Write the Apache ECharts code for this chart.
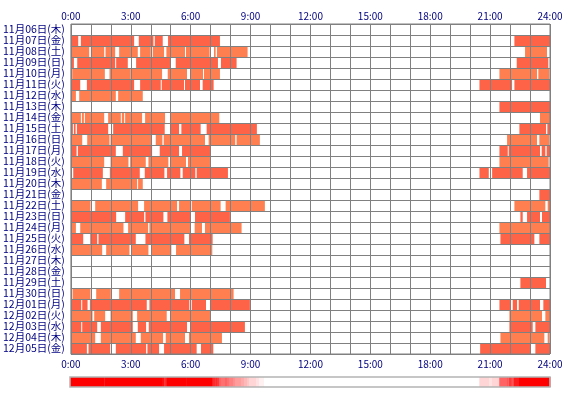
<!DOCTYPE html>
<html><head><meta charset="utf-8">
<script src="https://cdn.jsdelivr.net/npm/echarts@6/dist/echarts.min.js"></script>
<style>html,body{margin:0;padding:0;background:#fff}#c{width:570px;height:400px}</style>
</head><body><div id="c"></div>
<script>
// Row labels (top to bottom)
const dates = [
  '11月06日(木)','11月07日(金)','11月08日(土)','11月09日(日)','11月10日(月)',
  '11月11日(火)','11月12日(水)','11月13日(木)','11月14日(金)','11月15日(土)',
  '11月16日(日)','11月17日(月)','11月18日(火)','11月19日(水)','11月20日(木)',
  '11月21日(金)','11月22日(土)','11月23日(日)','11月24日(月)','11月25日(火)',
  '11月26日(水)','11月27日(木)','11月28日(金)','11月29日(土)','11月30日(日)',
  '12月01日(月)','12月02日(火)','12月03日(水)','12月04日(木)','12月05日(金)'
];
// Segments per day: [start minute, end minute] from 0:00
const segments = [
  [],
  [[0,22],[30,190],[204,248],[252,276],[292,448],[1333,1440]],
  [[0,55],[60,100],[104,133],[145,201],[208,240],[246,280],[287,343],[346,417],[430,435],[439,531],[1365,1431]],
  [[1,9],[19,133],[136,171],[196,298],[315,442],[451,498],[1340,1435]],
  [[0,2],[4,102],[116,180],[183,274],[291,349],[360,397],[400,448],[1288,1401],[1405,1438]],
  [[0,28],[48,190],[208,270],[273,340],[343,388],[396,429],[1228,1326],[1333,1440]],
  [[0,15],[25,135],[142,216]],
  [[1288,1440]],
  [[0,30],[33,39],[42,100],[112,150],[153,160],[163,214],[223,283],[300,446],[1410,1440]],
  [[0,6],[9,14],[18,112],[127,282],[300,325],[332,390],[408,559],[1348,1428],[1432,1440]],
  [[0,34],[49,116],[119,241],[255,275],[279,403],[414,494],[498,568],[1311,1401],[1408,1438]],
  [[1,17],[21,135],[156,244],[267,325],[334,420],[1288,1313],[1316,1410],[1415,1426],[1430,1440]],
  [[0,100],[119,173],[178,225],[233,293],[298,346],[352,420],[1288,1436]],
  [[0,2],[7,96],[117,207],[222,281],[289,329],[336,374],[378,472],[1228,1256],[1266,1358],[1371,1440]],
  [[0,93],[106,199],[202,216]],
  [[1408,1440]],
  [[0,59],[73,202],[220,319],[325,359],[363,450],[465,583],[1333,1426],[1433,1440]],
  [[0,136],[163,220],[224,278],[290,360],[373,478],[1351,1358],[1371,1410],[1416,1440]],
  [[0,15],[28,158],[172,232],[236,358],[372,394],[403,513],[1288,1440]],
  [[0,37],[58,79],[83,195],[224,341],[355,426],[1291,1393],[1408,1440]],
  [[0,94],[106,176],[181,233],[242,302],[316,425]],
  [],
  [],
  [[1351,1428]],
  [[0,3],[5,59],[76,120],[145,313],[328,489]],
  [[0,31],[34,50],[57,228],[236,356],[363,406],[418,538],[1288,1323],[1328,1341],[1346,1410],[1420,1440]],
  [[0,65],[70,103],[119,186],[199,288],[300,420],[1318,1416],[1426,1440]],
  [[0,31],[34,79],[90,186],[201,226],[234,349],[358,523],[1318,1388],[1396,1440]],
  [[0,73],[90,195],[210,277],[285,343],[355,454],[1291,1423],[1433,1438]],
  [[0,48],[53,118],[135,226],[230,265],[280,378],[391,428],[1230,1383],[1396,1440]]
];

const FONT = '"Noto Sans CJK JP", "Noto Sans", sans-serif';
const TEXT = '#000080';
const GRIDC = '#808080';

const barData = [];
segments.forEach((row, i) => row.forEach(s => barData.push([i, s[0], s[1]])));

// Density strip: number of days active in each 3-minute bin
const BIN = 3;
const density = [];
for (let t = 0; t < 1440; t += BIN) {
  const mid = t + BIN / 2;
  let c = 0;
  segments.forEach(row => { if (row.some(s => mid >= s[0] && mid < s[1])) c++; });
  density.push([t, t + BIN, c]);
}
const maxCount = Math.max.apply(null, density.map(d => d[2]));

const fmt = v => (v / 60) + ':00';
const chart = echarts.init(document.getElementById('c'), null, {renderer: 'canvas'});
chart.setOption({
  animation: false,
  backgroundColor: '#fff',
  grid: [
    {left: 70, top: 24, width: 480, height: 330, show: true, borderColor: GRIDC, borderWidth: 1, backgroundColor: 'transparent', z: 5},
    {left: 70, top: 377, width: 480, height: 10, show: true, borderColor: '#b4b4b4', borderWidth: 1.5, backgroundColor: 'transparent', z: 5}
  ],
  xAxis: [
    {gridIndex: 0, type: 'value', min: 0, max: 1440, interval: 180, position: 'bottom', z: 4,
     axisLine: {show: false}, axisTick: {show: false},
     splitLine: {show: true, lineStyle: {color: GRIDC, width: 1}},
     minorTick: {show: false, splitNumber: 3},
     minorSplitLine: {show: true, lineStyle: {color: GRIDC, width: 1}},
     axisLabel: {formatter: fmt, color: TEXT, fontFamily: FONT, fontSize: 10, margin: 5}},
    {gridIndex: 0, type: 'value', min: 0, max: 1440, interval: 180, position: 'top', z: 4,
     axisLine: {show: false}, axisTick: {show: false}, splitLine: {show: false},
     axisLabel: {formatter: fmt, color: TEXT, fontFamily: FONT, fontSize: 10, margin: 3}},
    {gridIndex: 1, type: 'value', min: 0, max: 1440, show: false}
  ],
  yAxis: [
    {gridIndex: 0, type: 'category', data: dates, inverse: true, z: 4,
     axisLine: {show: false}, axisTick: {show: false},
     splitLine: {show: true, interval: 0, lineStyle: {color: GRIDC, width: 1}},
     axisLabel: {interval: 0, color: TEXT, fontFamily: FONT, fontSize: 10.5, margin: 6}},
    {gridIndex: 1, type: 'value', min: 0, max: 1, show: false}
  ],
  visualMap: {type: 'continuous', show: false, seriesIndex: 1, dimension: 2, min: 0, max: Math.round(maxCount * 0.75),
    inRange: {color: ['#ffffff', '#ff0000']}},
  series: [
    {type: 'custom', xAxisIndex: 0, yAxisIndex: 0, data: barData, encode: {x: [1, 2], y: 0},
     renderItem: function (params, api) {
       const row = api.value(0);
       const a = api.coord([api.value(1), row]);
       const b = api.coord([api.value(2), row]);
       const h = api.size([0, 1])[1];
       return {type: 'rect', shape: {x: a[0], y: a[1] - h / 2, width: b[0] - a[0], height: h},
               style: {fill: row % 2 ? '#FF6347' : '#FF7F50'}};
     }},
    {type: 'custom', xAxisIndex: 2, yAxisIndex: 1, data: density, encode: {x: [0, 1]},
     renderItem: function (params, api) {
       const a = api.coord([api.value(0), 1]);
       const b = api.coord([api.value(1), 0]);
       return {type: 'rect', shape: {x: a[0], y: a[1], width: b[0] - a[0] + 0.6, height: b[1] - a[1]},
               style: {fill: api.visual('color')}};
     }}
  ]
});
</script></body></html>
